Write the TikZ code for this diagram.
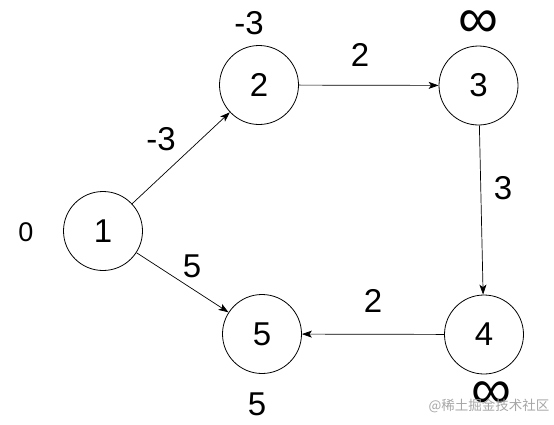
\documentclass[tikz,border=0pt]{standalone}
\usepackage{fontspec}
\setmainfont{Liberation Sans}
\newfontfamily\cjk{Noto Sans CJK SC}
\usetikzlibrary{arrows.meta}
\begin{document}
\begin{tikzpicture}[x=1pt,y=-1pt,
  vertex/.style={circle,draw,line width=0.8pt,minimum size=79pt,inner sep=0pt,font=\fontsize{33}{33}\selectfont},
  lbl/.style={inner sep=0pt,font=\fontsize{33}{33}\selectfont},
  inf/.style={inner sep=0pt,anchor=base,font=\fontsize{56}{56}\selectfont},
  edge/.style={draw,line width=0.7pt,-{Stealth[length=10pt,width=7pt,inset=2.5pt]}}]
\useasboundingbox (0,0) rectangle (554,424);
\node[vertex] (n1) at (103,231) {1};
\node[vertex] (n2) at (259,85) {2};
\node[vertex] (n3) at (478.5,85.5) {3};
\node[vertex] (n4) at (484,334.5) {4};
\node[vertex] (n5) at (262,334) {5};
\node[lbl,font=\fontsize{27}{27}\selectfont] (d1) at (26,232) {0};
\node[lbl] (d2) at (249,23) {-3};
\node[inf] (d3) at (478,37) {\smash{∞}};
\node[inf] (d4) at (491,408) {\smash{∞}};
\node[lbl] (d5) at (257,404) {5};
\path[edge] (n1) -- (n2);
\path[edge] (n2) -- (n3);
\path[edge] (n3) -- (n4);
\path[edge] (n4) -- (n5);
\path[edge] (n1) -- (n5);
\node[lbl] (e12) at (161,139) {-3};
\node[lbl] (e23) at (360,55) {2};
\node[lbl] (e34) at (503,188) {3};
\node[lbl] (e45) at (373,301) {2};
\node[lbl] (e15) at (192,266) {5};
\node[inner sep=0pt,text=black!35,font=\cjk\fontsize{13.5}{13.5}\selectfont] (wm) at (489,406) {@稀土掘金技术社区};
\end{tikzpicture}
\end{document}
